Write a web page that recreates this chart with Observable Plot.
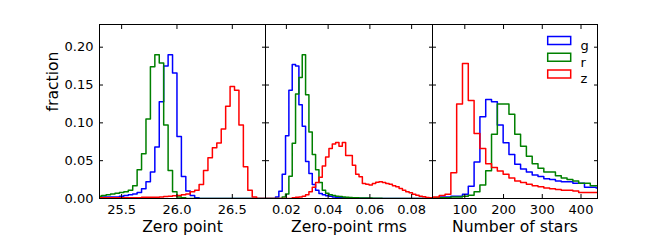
<!DOCTYPE html>
<html><head><meta charset="utf-8">
<script src="https://cdn.jsdelivr.net/npm/d3@7"></script>
<script src="https://cdn.jsdelivr.net/npm/@observablehq/plot@0.6"></script>
<style>
body{margin:0;background:#fff;}
#fig{position:relative;width:664px;height:249px;overflow:hidden;background:#fff;}
#fig svg{position:absolute;left:0;top:0;}
</style></head><body><div id="fig"></div>
<script>
// ---- data ----
const bands = ["g", "r", "z"];
const bandColors = ["#0000ff", "#008000", "#ff0000"];
const yTicks = [0, 0.05, 0.10, 0.15, 0.20];
const yDomain = [0, 0.23];

// Panel 1: zero point (bins of 0.04 starting at 25.2)
const zpBinStart = 25.2, zpBinWidth = 0.04;
const zpTicks = [25.5, 26.0, 26.5];
const zpG = [0.002,0.002,0.002,0.002,0.002,0.002,0.002,0.003,0.004,0.005,0.006,0.008,0.013,0.022,0.035,0.068,0.128,0.175,0.190,0.166,0.082,0.029,0.010,0.004,0.001,0,0,0,0,0,0,0,0,0,0,0,0,0,0,0];
const zpR = [0.003,0.003,0.003,0.004,0.005,0.006,0.007,0.008,0.009,0.011,0.017,0.038,0.059,0.105,0.174,0.190,0.179,0.097,0.037,0.009,0.002,0.001,0,0,0,0,0,0,0,0,0,0,0,0,0,0,0,0,0,0];
const zpZ = [0.001,0.001,0.001,0.001,0.001,0.001,0.001,0.001,0.001,0.001,0.001,0.001,0.0015,0.0015,0.0015,0.0015,0.002,0.0025,0.003,0.0035,0.004,0.005,0.006,0.009,0.011,0.0185,0.037,0.054,0.067,0.0735,0.092,0.122,0.148,0.143,0.097,0.042,0.011,0.002,0,0];

// Panel 2: zero-point rms (bins of 0.0016 starting at 0.01)
const rmsBinStart = 0.01, rmsBinWidth = 0.0016;
const rmsTicks = [0.02, 0.04, 0.06, 0.08];
const rmsG = [0,0,0,0.002,0.0097,0.032,0.083,0.143,0.177,0.175,0.124,0.0956,0.049,0.033,0.0185,0.011,0.0066,0.005,0.0037,0.003,0.002,0.0015,0.0012,0.001,0.001,0.0008,0.0006,0.0005,0.0004,0.0003,0.0002,0,0,0,0,0,0,0,0,0,0,0,0,0,0,0,0,0,0,0];
const rmsR = [0,0,0,0,0,0.002,0.006,0.0295,0.073,0.138,0.160,0.190,0.137,0.088,0.058,0.038,0.021,0.011,0.007,0.005,0.004,0.003,0.0025,0.002,0.0015,0.0012,0.001,0.001,0.0008,0.0007,0.0006,0.0005,0.0004,0.0003,0.0002,0,0,0,0,0,0,0,0,0,0,0,0,0,0,0];
const rmsZ = [0,0,0,0,0,0,0,0,0.001,0.0015,0.002,0.003,0.005,0.009,0.015,0.021,0.028,0.043,0.055,0.066,0.072,0.074,0.069,0.074,0.057,0.057,0.044,0.032,0.0286,0.0198,0.019,0.018,0.0198,0.0216,0.022,0.0211,0.0198,0.019,0.0167,0.0154,0.0132,0.011,0.0088,0.0075,0.0057,0.0044,0.003,0.0022,0.0013,0.001];

// Panel 3: number of stars (bins of 15 starting at 4)
const nsBinStart = 4, nsBinWidth = 15;
const nsTicks = [100, 200, 300, 400];
const nsG = [0.001,0.001,0.002,0.002,0.003,0.003,0.0056,0.0163,0.0484,0.108,0.131,0.128,0.097,0.0736,0.058,0.0454,0.039,0.035,0.031,0.029,0.026,0.025,0.023,0.022,0.022,0.020,0.020,0.015,0.015,0.014];
const nsR = [0.001,0.001,0.001,0.001,0.002,0.002,0.003,0.0044,0.0088,0.0177,0.0366,0.085,0.125,0.125,0.1115,0.085,0.069,0.056,0.046,0.040,0.035,0.035,0.030,0.027,0.025,0.023,0.020,0.020,0.017,0.017];
const nsZ = [0.001,0.002,0.004,0.0055,0.034,0.125,0.1786,0.1296,0.086,0.066,0.046,0.041,0.0365,0.032,0.027,0.023,0.021,0.019,0.017,0.0155,0.014,0.013,0.012,0.011,0.011,0.010,0.008,0.008,0.008,0.008];

// ---- drawing ----
const FONT = "DejaVu Sans, Bitstream Vera Sans, sans-serif";

function stepPoints(start, width, vals) {
  const pts = [{x: start, y: 0}];
  vals.forEach((v, i) => pts.push({x: start + i * width, y: v}));
  pts.push({x: start + vals.length * width, y: 0});
  return pts;
}

const rectSymbol = {draw(ctx) { ctx.rect(-11.5, -4, 23, 8); }};

function panel({xDomain, xTicks, xFormat, xLabel, series, start, width, marginLeft, marginRight, showY, legend}) {
  const marks = [];
  series.forEach((vals, i) => {
    marks.push(Plot.line(stepPoints(start, width, vals), {
      x: "x", y: "y", curve: "step-after", stroke: bandColors[i], strokeWidth: 1.5, clip: true
    }));
  });
  marks.push(Plot.frame({stroke: "black", strokeWidth: 1}));
  // inward ticks on all sides
  marks.push(Plot.axisX(xTicks, {anchor: "bottom", tickSize: 4, dy: -4, fill: "none", label: null}));
  marks.push(Plot.axisX(xTicks, {anchor: "top", tickSize: 4, dy: 4, fill: "none", label: null}));
  marks.push(Plot.axisY(yTicks, {anchor: "left", tickSize: 4, dx: 4, fill: "none", label: null}));
  marks.push(Plot.axisY(yTicks, {anchor: "right", tickSize: 4, dx: -4, fill: "none", label: null}));
  // tick labels
  marks.push(Plot.axisX(xTicks, {anchor: "bottom", tickSize: 0, tickPadding: 6, tickFormat: xFormat, label: null, fontSize: 13}));
  if (showY) {
    marks.push(Plot.axisY(yTicks, {anchor: "left", tickSize: 0, tickPadding: 6, tickFormat: ".2f", label: null, fontSize: 13}));
    marks.push(Plot.text(["fraction"], {frameAnchor: "left", text: d => d, rotate: -90, dx: -47, fontSize: 15.6}));
  }
  marks.push(Plot.text([xLabel], {frameAnchor: "bottom", text: d => d, dy: 33, fontSize: 15.6}));
  if (legend) {
    bands.forEach((b, i) => {
      marks.push(Plot.dot([b], {frameAnchor: "top-right", symbol: rectSymbol, stroke: bandColors[i], fill: "none", strokeWidth: 1.5, dx: -38.3, dy: 16 + i * 16.8}));
      marks.push(Plot.text([b], {frameAnchor: "top-right", text: d => d, textAnchor: "start", dx: -17, dy: 16 + i * 16.8, fontSize: 13}));
    });
  }
  return Plot.plot({
    width: 664, height: 249,
    marginLeft, marginRight, marginTop: 24, marginBottom: 51,
    x: {domain: xDomain, axis: null},
    y: {domain: yDomain, axis: null},
    style: {fontFamily: FONT, fontSize: "13px", color: "black", background: "transparent", overflow: "visible"},
    marks
  });
}

const fig = document.getElementById("fig");
fig.append(panel({xDomain: [25.3, 26.8], xTicks: zpTicks, xFormat: ".1f", xLabel: "Zero point",
  series: [zpG, zpR, zpZ], start: zpBinStart, width: zpBinWidth, marginLeft: 99, marginRight: 399, showY: true}));
fig.append(panel({xDomain: [0.01, 0.09], xTicks: rmsTicks, xFormat: ".2f", xLabel: "Zero-point rms",
  series: [rmsG, rmsR, rmsZ], start: rmsBinStart, width: rmsBinWidth, marginLeft: 265, marginRight: 232}));
fig.append(panel({xDomain: [16.6, 442.6], xTicks: nsTicks, xFormat: "d", xLabel: "Number of stars",
  series: [nsG, nsR, nsZ], start: nsBinStart, width: nsBinWidth, marginLeft: 432, marginRight: 67, legend: true}));
</script>
</body></html>
